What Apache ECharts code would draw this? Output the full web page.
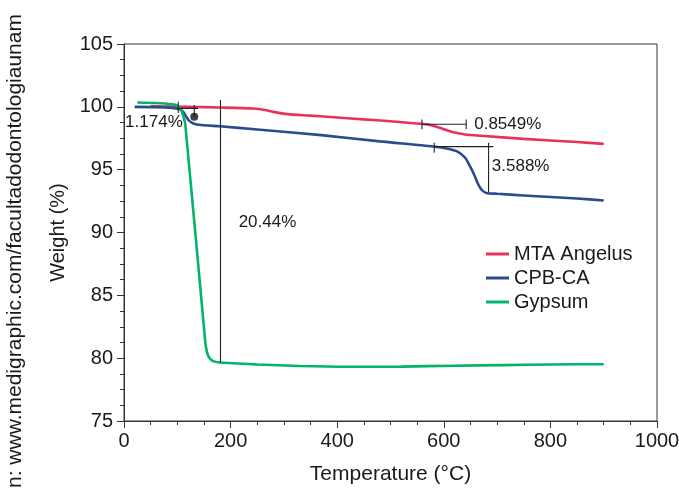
<!DOCTYPE html>
<html>
<head>
<meta charset="utf-8">
<script src="https://cdn.jsdelivr.net/npm/echarts@6/dist/echarts.min.js"></script>
<style>
  html, body { margin: 0; padding: 0; background: #fff; }
  #chart { width: 679px; height: 488px; }
</style>
</head>
<body>
<div id="chart"></div>
<script>
// ---- data ----
const seriesNames = ['MTA Angelus', 'CPB-CA', 'Gypsum'];

const tempMTA = [50, 120, 180, 243, 265, 280, 307, 350, 400, 450, 500, 557, 580, 600, 620, 640, 670, 750, 850, 900];
const wMTA    = [100.05, 100.0, 99.95, 99.87, 99.75, 99.6, 99.42, 99.3, 99.15, 99.0, 98.85, 98.65, 98.5, 98.22, 97.95, 97.8, 97.7, 97.45, 97.2, 97.05];

const tempCPB = [20, 60, 90, 100, 107, 112, 117, 122, 130, 145, 180, 250, 370, 480, 580, 610, 625, 640, 650, 657, 665, 672, 680, 700, 750, 850, 900];
const wCPB    = [100.0, 99.98, 99.92, 99.85, 99.75, 99.55, 99.2, 98.9, 98.68, 98.55, 98.45, 98.2, 97.75, 97.25, 96.85, 96.65, 96.45, 95.95, 95.2, 94.6, 93.8, 93.35, 93.15, 93.08, 92.95, 92.7, 92.55];

const tempGyp = [25, 60, 90, 100, 106, 111, 115, 152, 155, 159, 166, 180, 250, 330, 420, 520, 620, 710, 800, 900];
const wGyp    = [100.35, 100.3, 100.2, 100.1, 99.85, 99.3, 98.6, 81.5, 80.6, 80.1, 79.78, 79.65, 79.5, 79.38, 79.32, 79.33, 79.4, 79.45, 79.5, 79.52];

// annotation segments [x1, y1, x2, y2]
const annotationSegments = [
  [100, 99.88, 139, 99.88],
  [101.7, 100.4, 101.7, 99.5],
  [131.8, 100.15, 131.8, 99.22],
  [181, 100.55, 181, 79.65],
  [559, 98.61, 642, 98.61],
  [559, 99.0, 559, 98.22],
  [642, 99.0, 642, 98.22],
  [582, 96.83, 693, 96.83],
  [582, 97.15, 582, 96.35],
  [684, 97.15, 684, 93.2]
];
const annotationDots = [[131.8, 99.22]];
const annotationTexts = ['1.174%', '20.44%', '0.8549%', '3.588%'];
const annotationTextPos = [[2, 98.8], [215, 90.84], [657, 98.63], [690, 95.24]];

const xTicks = { min: 0, max: 1000, interval: 200 };
const yTicks = { min: 75, max: 105, interval: 5 };

const colors = ['#E8315B', '#2A4B8C', '#00B46A'];
const FONT = '"Liberation Sans", Arial, Helvetica, sans-serif';
const TEXT = '#1a1a1a';

function zip(xs, ys) { return xs.map((x, i) => [x, ys[i]]); }

const mainSeries = [
  { name: seriesNames[0], data: zip(tempMTA, wMTA), color: colors[0] },
  { name: seriesNames[1], data: zip(tempCPB, wCPB), color: colors[1] },
  { name: seriesNames[2], data: zip(tempGyp, wGyp), color: colors[2] }
].map(s => ({
  name: s.name,
  type: 'line',
  data: s.data,
  symbol: 'none',
  smooth: 0.25,
  z: 3,
  lineStyle: { color: s.color, width: 2.6 },
  itemStyle: { color: s.color }
}));

const annSeries = annotationSegments.map((seg, i) => ({
  name: 'ann' + i,
  type: 'line',
  data: [[seg[0], seg[1]], [seg[2], seg[3]]],
  symbol: 'none',
  silent: true,
  z: 4,
  lineStyle: { color: '#222', width: 1.1 }
}));

const dotSeries = {
  name: 'dot',
  type: 'scatter',
  data: annotationDots,
  symbolSize: 8,
  z: 5,
  itemStyle: { color: '#111' }
};

const textSeries = {
  name: 'texts',
  type: 'scatter',
  data: annotationTextPos.map((p, i) => ({ value: p, label: { formatter: annotationTexts[i] } })),
  symbolSize: 0.1,
  itemStyle: { color: 'rgba(0,0,0,0)' },
  z: 6,
  label: {
    show: true,
    position: 'right',
    distance: 0,
    fontFamily: FONT,
    fontSize: 17,
    color: TEXT,
    opacity: 1
  }
};

const chart = echarts.init(document.getElementById('chart'), null, { renderer: 'canvas' });
chart.setOption({
  animation: false,
  backgroundColor: '#fff',
  grid: {
    left: 124, right: 22, top: 44, bottom: 67,
    containLabel: false,
    outerBoundsMode: 'none',
    show: true, borderColor: '#333', borderWidth: 1
  },
  legend: {
    data: seriesNames,
    orient: 'vertical',
    left: 481,
    top: 239,
    itemWidth: 23,
    itemHeight: 3,
    itemGap: 4,
    icon: 'rect',
    textStyle: { fontFamily: FONT, fontSize: 20, color: TEXT, lineHeight: 20 }
  },
  xAxis: {
    type: 'value',
    min: xTicks.min, max: xTicks.max, interval: xTicks.interval,
    name: 'Temperature (\u00B0C)',
    nameLocation: 'middle',
    nameGap: 43,
    nameTextStyle: { fontFamily: FONT, fontSize: 21, color: TEXT },
    axisLine: { show: true, lineStyle: { color: '#333', width: 1 } },
    axisTick: { show: true, inside: false, length: 7, lineStyle: { color: '#333' } },
    minorTick: { show: true, splitNumber: 4, length: 4, lineStyle: { color: '#333' } },
    axisLabel: { fontFamily: FONT, fontSize: 20, color: TEXT, margin: 10, formatter: v => String(v) },
    splitLine: { show: false }
  },
  yAxis: {
    type: 'value',
    min: yTicks.min, max: yTicks.max, interval: yTicks.interval,
    name: 'Weight (%)',
    nameLocation: 'middle',
    nameGap: 45,
    nameTextStyle: { fontFamily: FONT, fontSize: 20, color: TEXT },
    axisLine: { show: true, lineStyle: { color: '#333', width: 1 } },
    axisTick: { show: true, inside: false, length: 7, lineStyle: { color: '#333' } },
    minorTick: { show: true, splitNumber: 4, length: 4, lineStyle: { color: '#333' } },
    axisLabel: { fontFamily: FONT, fontSize: 20, color: TEXT, margin: 11, formatter: v => String(v) },
    splitLine: { show: false }
  },
  graphic: [{
    type: 'text',
    x: 26,
    y: 488,
    rotation: Math.PI / 2,
    style: {
      text: 'n: www.medigraphic.com/facultadodontologiaunam',
      fontFamily: FONT,
      fontSize: 21,
      fill: TEXT,
      textAlign: 'left',
      textVerticalAlign: 'bottom'
    }
  }],
  series: mainSeries.concat(annSeries, [dotSeries, textSeries])
});
</script>
</body>
</html>
